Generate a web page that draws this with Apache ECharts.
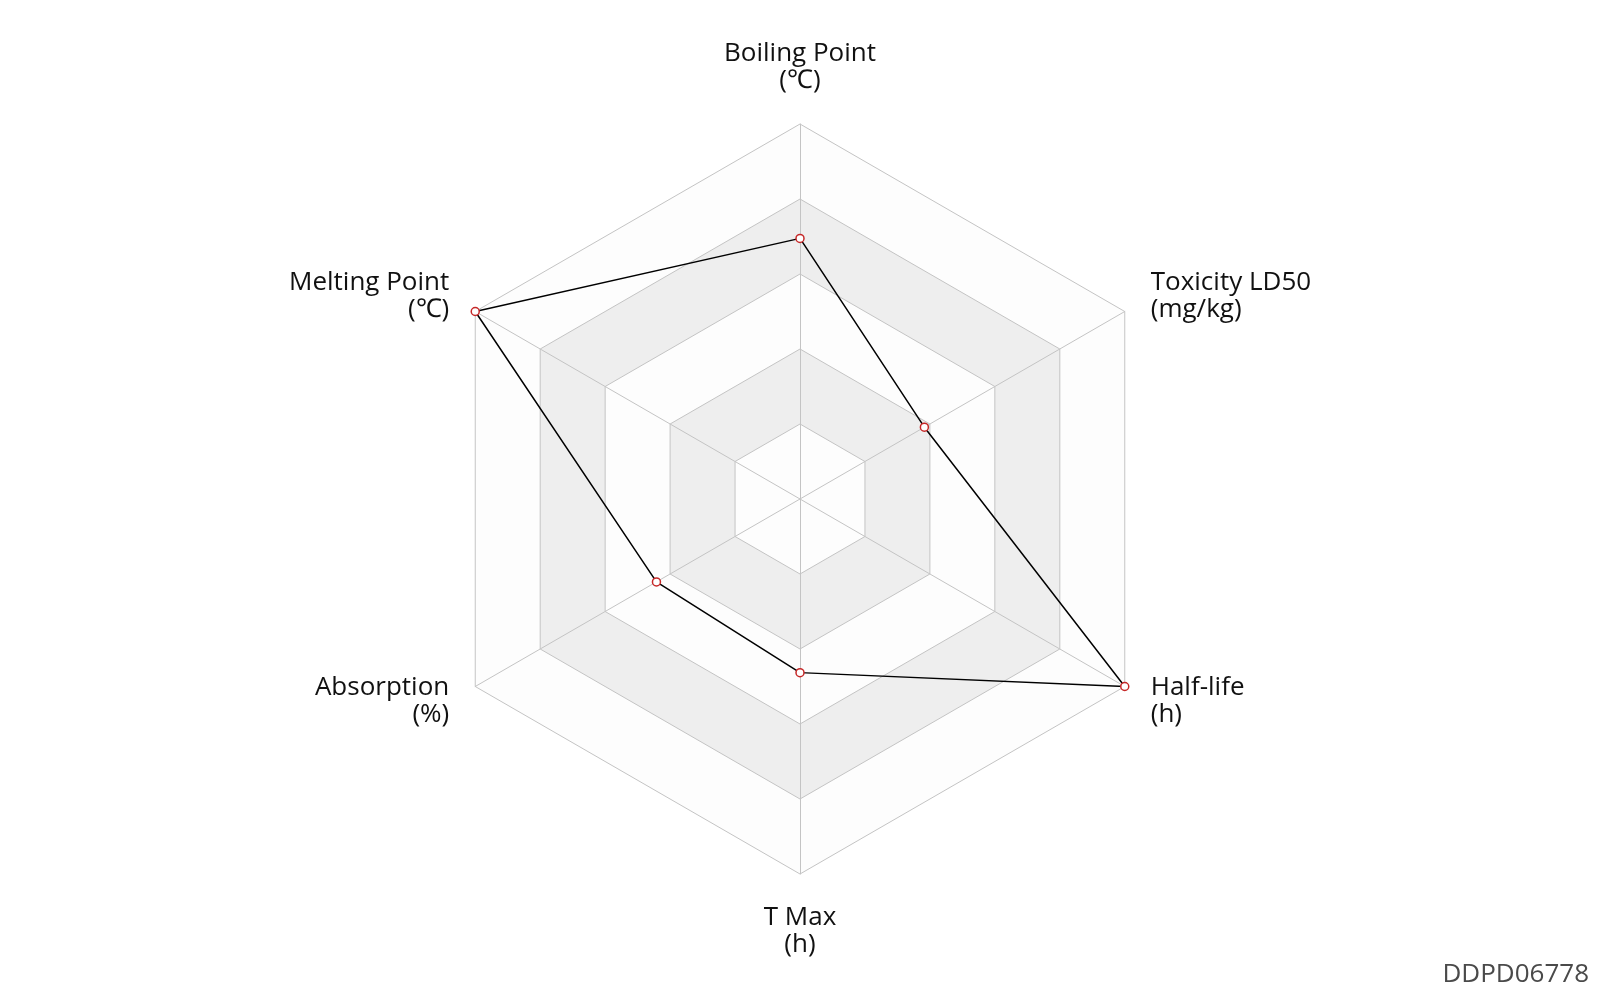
<!DOCTYPE html>
<html><head><meta charset="utf-8">
<script src="https://cdn.jsdelivr.net/npm/echarts@6/dist/echarts.min.js"></script>
<style>html,body{margin:0;padding:0;background:#fff}#c{width:1600px;height:1000px}</style>
</head><body><div id="c"></div>
<script>
const indicatorNames = ['Boiling Point\n(℃)', 'Melting Point\n(℃)', 'Absorption\n(%)', 'T Max\n(h)', 'Half-life\n(h)', 'Toxicity LD50\n(mg/kg)'];
const indicatorMax = [100, 100, 100, 100, 100, 100];
const seriesValues = [69.5, 100, 44.2, 46.3, 100, 38.3];
const watermark = 'DDPD06778';

const chart = echarts.init(document.getElementById('c'));
chart.setOption({
  backgroundColor: '#fff',
  animation: false,
  graphic: [{
    type: 'text', right: 11, bottom: 12,
    style: { text: watermark, fill: '#4a4a4a', font: '26px "Open Sans", sans-serif' }
  }],
  radar: {
    center: ['50%', '49.9%'],
    radius: '75%',
    splitNumber: 5,
    indicator: indicatorNames.map((n, i) => ({ name: n, max: indicatorMax[i], min: 0 })),
    axisName: { color: '#111', fontSize: 26, lineHeight: 27, fontFamily: '"Open Sans", sans-serif' },
    nameGap: 30,
    axisLine: { lineStyle: { color: '#c4c4c4' } },
    splitLine: { lineStyle: { color: '#c4c4c4' } },
    splitArea: { areaStyle: { color: ['rgba(250,250,250,0.3)', 'rgba(200,200,200,0.3)'] } }
  },
  series: [{
    type: 'radar',
    symbol: 'circle',
    symbolSize: 8,
    lineStyle: { color: '#000', width: 1.5 },
    itemStyle: { color: '#fff', borderColor: '#c62828', borderWidth: 1.5 },
    data: [{ value: seriesValues }]
  }]
});
</script></body></html>
